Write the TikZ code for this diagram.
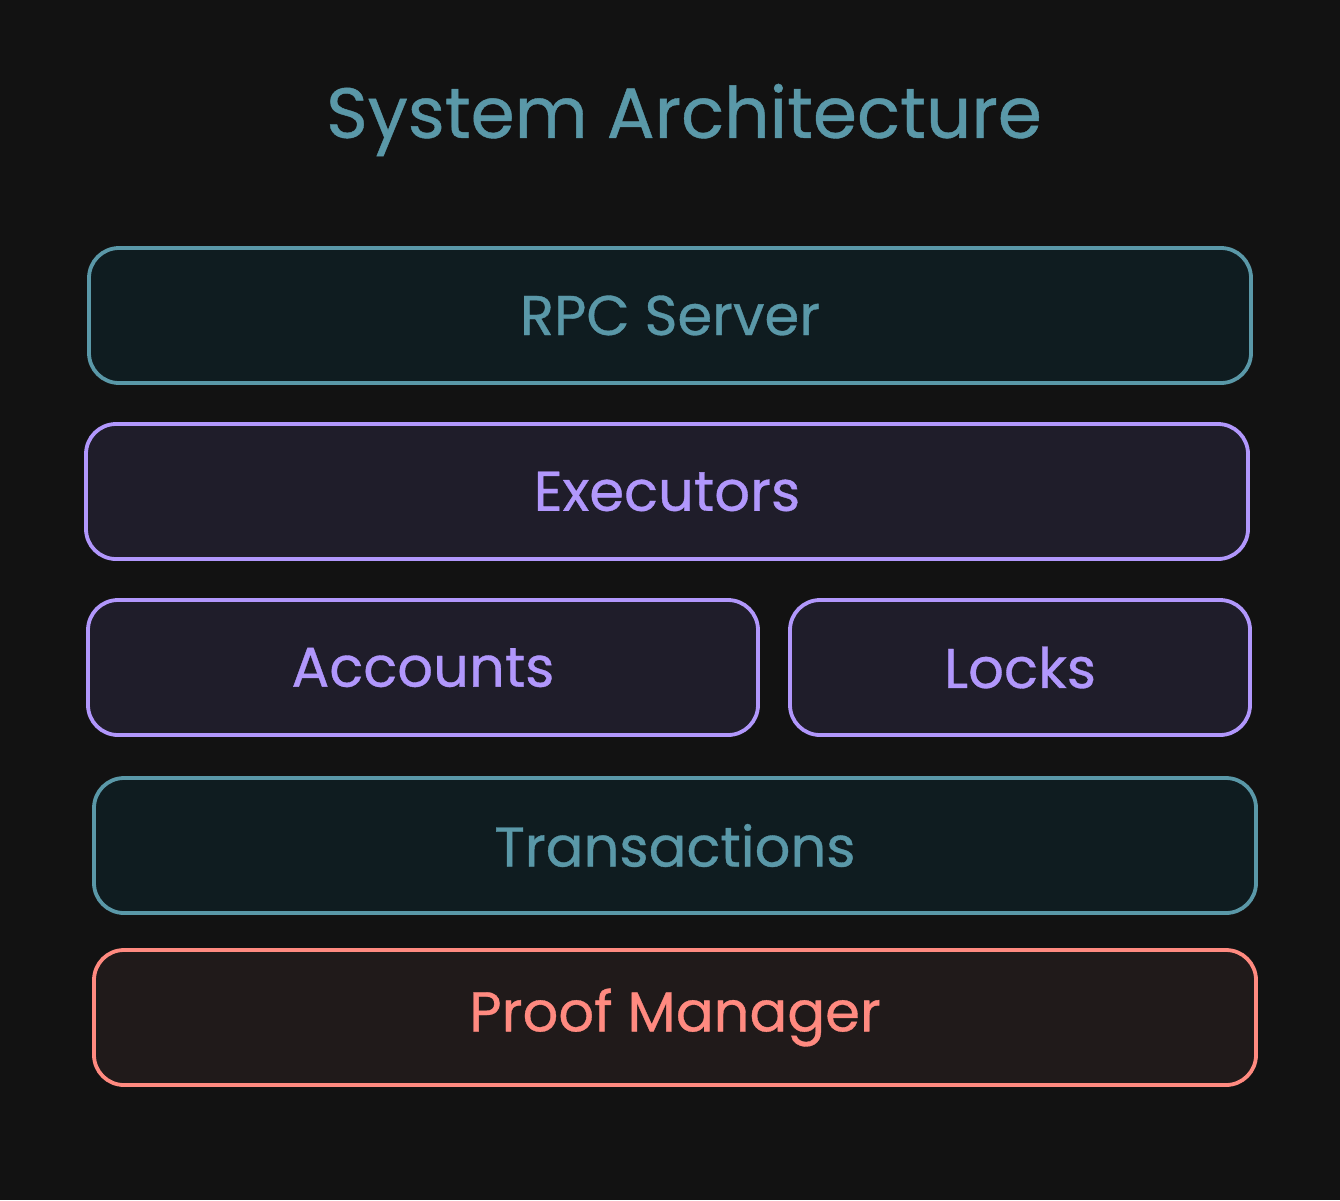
\documentclass[tikz,border=0pt]{standalone}
\usepackage{fontspec}
\setmainfont{Poppins}[FakeBold=0.6]
\definecolor{bgc}{HTML}{121212}
\definecolor{teal}{HTML}{5A98A8}
\definecolor{tealfill}{HTML}{0F1C20}
\definecolor{purp}{HTML}{B197FC}
\definecolor{purpfill}{HTML}{1F1D2A}
\definecolor{redc}{HTML}{FF8A80}
\definecolor{redfill}{HTML}{201A1A}
\begin{document}
\begin{tikzpicture}[x=1pt,y=-1pt,
  layer/.style={draw, line width=3.8pt, rounded corners=30pt, inner sep=0pt, font=\fontsize{56}{56}\selectfont},
  tealbox/.style={layer, draw=teal, fill=tealfill, text=teal},
  purpbox/.style={layer, draw=purp, fill=purpfill, text=purp},
  redbox/.style={layer, draw=redc, fill=redfill, text=redc}]
\fill[bgc] (0,0) rectangle (1340,1200);
\useasboundingbox (0,0) rectangle (1340,1200);
\node[text=teal, font=\fontsize{71}{71}\selectfont] (title) at (684,120) {System Architecture};
\node[tealbox, minimum width=1162pt, minimum height=135pt] (rpc) at (670,315.5) {RPC Server};
\node[purpbox, minimum width=1162pt, minimum height=135pt] (exec) at (667,491.5) {Executors};
\node[purpbox, minimum width=670pt, minimum height=135pt] (acc) at (423,667.5) {Accounts};
\node[purpbox, minimum width=460pt, minimum height=135pt] (locks) at (1020,667.5) {Locks};
\node[tealbox, minimum width=1162pt, minimum height=135pt] (tx) at (675,845.5) {Transactions};
\node[redbox, minimum width=1162pt, minimum height=135pt] (proof) at (675,1017.5) {Proof Manager};
\end{tikzpicture}
\end{document}
